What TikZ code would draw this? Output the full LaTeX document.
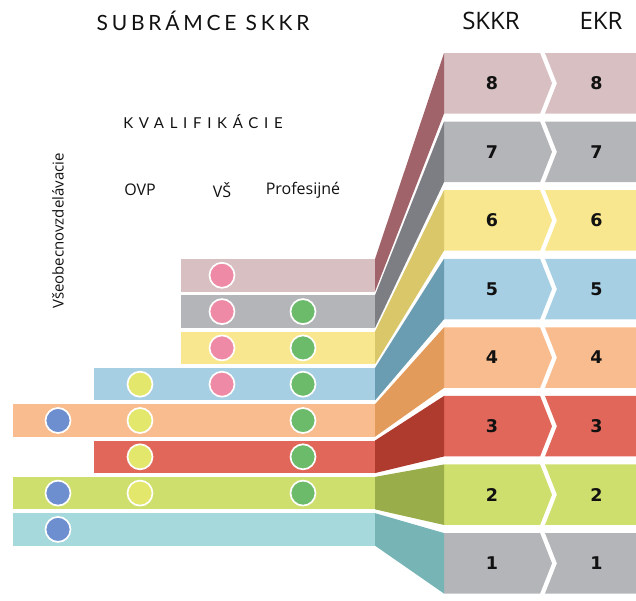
\documentclass[tikz,border=0pt]{standalone}
\usepackage{fontspec}
\setmainfont{Open Sans}
\newfontfamily\headfont[LetterSpace=18]{Lato}
\newfontfamily\subheadfont[LetterSpace=38]{Lato}
\newfontfamily\levelfont{DejaVu Sans}
\usetikzlibrary{shapes.symbols}
\definecolor{ink}{HTML}{111111}
\definecolor{barA}{HTML}{D8C0C2}\definecolor{sideA}{HTML}{A1636A}
\definecolor{barB}{HTML}{B4B5B9}\definecolor{sideB}{HTML}{7D7E84}
\definecolor{barC}{HTML}{F8E78E}\definecolor{sideC}{HTML}{D9C76A}
\definecolor{barD}{HTML}{A6CFE4}\definecolor{sideD}{HTML}{6B9DB2}
\definecolor{barE}{HTML}{F9BC8E}\definecolor{sideE}{HTML}{E39B5B}
\definecolor{barF}{HTML}{E0675A}\definecolor{sideF}{HTML}{AF3A2E}
\definecolor{barG}{HTML}{CFDF6D}\definecolor{sideG}{HTML}{9AAD4B}
\definecolor{barH}{HTML}{A5D9DB}\definecolor{sideH}{HTML}{76B4B5}
\definecolor{dotblue}{HTML}{6E8FCF}
\definecolor{dotlime}{HTML}{E3E76C}
\definecolor{dotpink}{HTML}{EE8AA5}
\definecolor{dotgreen}{HTML}{6CBB6B}

\begin{document}
\begin{tikzpicture}[x=1pt,y=-1pt]
  \tikzset{
    qbar/.style={anchor=east,minimum height=32.5pt,inner sep=0,outer sep=0},
    skkr/.style={shape=signal,signal to=east,signal pointer angle=137,anchor=west,minimum width=108pt,minimum height=60.5pt,inner sep=0,outer sep=0,font=\levelfont\bfseries\fontsize{17.5}{17.5}\selectfont,text=ink},
    ekr/.style={shape=signal,signal from=west,signal to=nowhere,signal pointer angle=137,anchor=east,minimum width=91pt,minimum height=60.5pt,inner sep=0,outer sep=0,font=\levelfont\bfseries\fontsize{17.5}{17.5}\selectfont,text=ink},
    dot/.style={circle,draw=white,line width=1.7pt,minimum size=25pt,inner sep=0},
    label/.style={text=ink,font=\fontsize{16}{16}\selectfont,inner sep=0}
  }
  \useasboundingbox (0,0) rectangle (636,600);

  % Headings.
  \node[text=ink,font=\headfont\fontsize{21}{21}\selectfont,inner sep=0] (title) at (203,21) {SUBRÁMCE SKKR};
  \node[text=ink,font=\subheadfont\fontsize{15}{15}\selectfont,inner sep=0] (kval) at (203,122) {KVALIFIKÁCIE};
  \node[text=ink,font=\fontsize{24}{24}\selectfont,inner sep=0] (hS) at (491,21) {SKKR};
  \node[text=ink,font=\fontsize{24}{24}\selectfont,inner sep=0] (hE) at (601,21) {EKR};
  \node[label] (hOVP) at (140,190) {OVP};
  \node[label] (hVS) at (222,190) {VŠ};
  \node[label] (hPro) at (303,190) {Profesijné};
  \node[label,font=\fontsize{15}{15}\selectfont,rotate=90] (hVse) at (58,231) {Všeobecnovzdelávacie};

  % Qualification bars.
  \node[qbar,fill=barA,minimum width=194pt] (L8) at (375,275.3) {};
  \node[qbar,fill=barB,minimum width=194pt] (L7) at (375,311.6) {};
  \node[qbar,fill=barC,minimum width=194pt] (L6) at (375,347.9) {};
  \node[qbar,fill=barD,minimum width=281pt] (L5) at (375,384.2) {};
  \node[qbar,fill=barE,minimum width=362pt] (L4) at (375,420.5) {};
  \node[qbar,fill=barF,minimum width=281pt] (L3) at (375,456.8) {};
  \node[qbar,fill=barG,minimum width=362pt] (L2) at (375,493.1) {};
  \node[qbar,fill=barH,minimum width=362pt] (L1) at (375,529.4) {};

  % Level blocks.
  \node[skkr,fill=barA] (S8) at (444,83.3) {8};
  \node[skkr,fill=barB] (S7) at (444,151.9) {7};
  \node[skkr,fill=barC] (S6) at (444,220.4) {6};
  \node[skkr,fill=barD] (S5) at (444,289.0) {5};
  \node[skkr,fill=barE] (S4) at (444,357.6) {4};
  \node[skkr,fill=barF] (S3) at (444,426.2) {3};
  \node[skkr,fill=barG] (S2) at (444,494.7) {2};
  \node[skkr,fill=barB] (S1) at (444,563.3) {1};
  \node[ekr,fill=barA] (E8) at (636,83.3) {8};
  \node[ekr,fill=barB] (E7) at (636,151.9) {7};
  \node[ekr,fill=barC] (E6) at (636,220.4) {6};
  \node[ekr,fill=barD] (E5) at (636,289.0) {5};
  \node[ekr,fill=barE] (E4) at (636,357.6) {4};
  \node[ekr,fill=barF] (E3) at (636,426.2) {3};
  \node[ekr,fill=barG] (E2) at (636,494.7) {2};
  \node[ekr,fill=barB] (E1) at (636,563.3) {1};

  % Side faces.
  \fill[sideA] (L8.north east) -- (S8.north west) -- (S8.south west) -- (L8.south east) -- cycle;
  \fill[sideB] (L7.north east) -- (S7.north west) -- (S7.south west) -- (L7.south east) -- cycle;
  \fill[sideC] (L6.north east) -- (S6.north west) -- (S6.south west) -- (L6.south east) -- cycle;
  \fill[sideD] (L5.north east) -- (S5.north west) -- (S5.south west) -- (L5.south east) -- cycle;
  \fill[sideE] (L4.north east) -- (S4.north west) -- (S4.south west) -- (L4.south east) -- cycle;
  \fill[sideF] (L3.north east) -- (S3.north west) -- (S3.south west) -- (L3.south east) -- cycle;
  \fill[sideG] (L2.north east) -- (S2.north west) -- (S2.south west) -- (L2.south east) -- cycle;
  \fill[sideH] (L1.north east) -- (S1.north west) -- (S1.south west) -- (L1.south east) -- cycle;

  % Dots.
  \node[dot,fill=dotpink] (p8) at (222,275.3) {};
  \node[dot,fill=dotpink] (p7) at (222,311.6) {};
  \node[dot,fill=dotgreen] (g7) at (303,311.6) {};
  \node[dot,fill=dotpink] (p6) at (222,347.9) {};
  \node[dot,fill=dotgreen] (g6) at (303,347.9) {};
  \node[dot,fill=dotlime] (y5) at (140,384.2) {};
  \node[dot,fill=dotpink] (p5) at (222,384.2) {};
  \node[dot,fill=dotgreen] (g5) at (303,384.2) {};
  \node[dot,fill=dotblue] (b4) at (58,420.5) {};
  \node[dot,fill=dotlime] (y4) at (140,420.5) {};
  \node[dot,fill=dotgreen] (g4) at (303,420.5) {};
  \node[dot,fill=dotlime] (y3) at (140,456.8) {};
  \node[dot,fill=dotgreen] (g3) at (303,456.8) {};
  \node[dot,fill=dotblue] (b2) at (58,493.1) {};
  \node[dot,fill=dotlime] (y2) at (140,493.1) {};
  \node[dot,fill=dotgreen] (g2) at (303,493.1) {};
  \node[dot,fill=dotblue] (b1) at (58,529.4) {};
\end{tikzpicture}
\end{document}
